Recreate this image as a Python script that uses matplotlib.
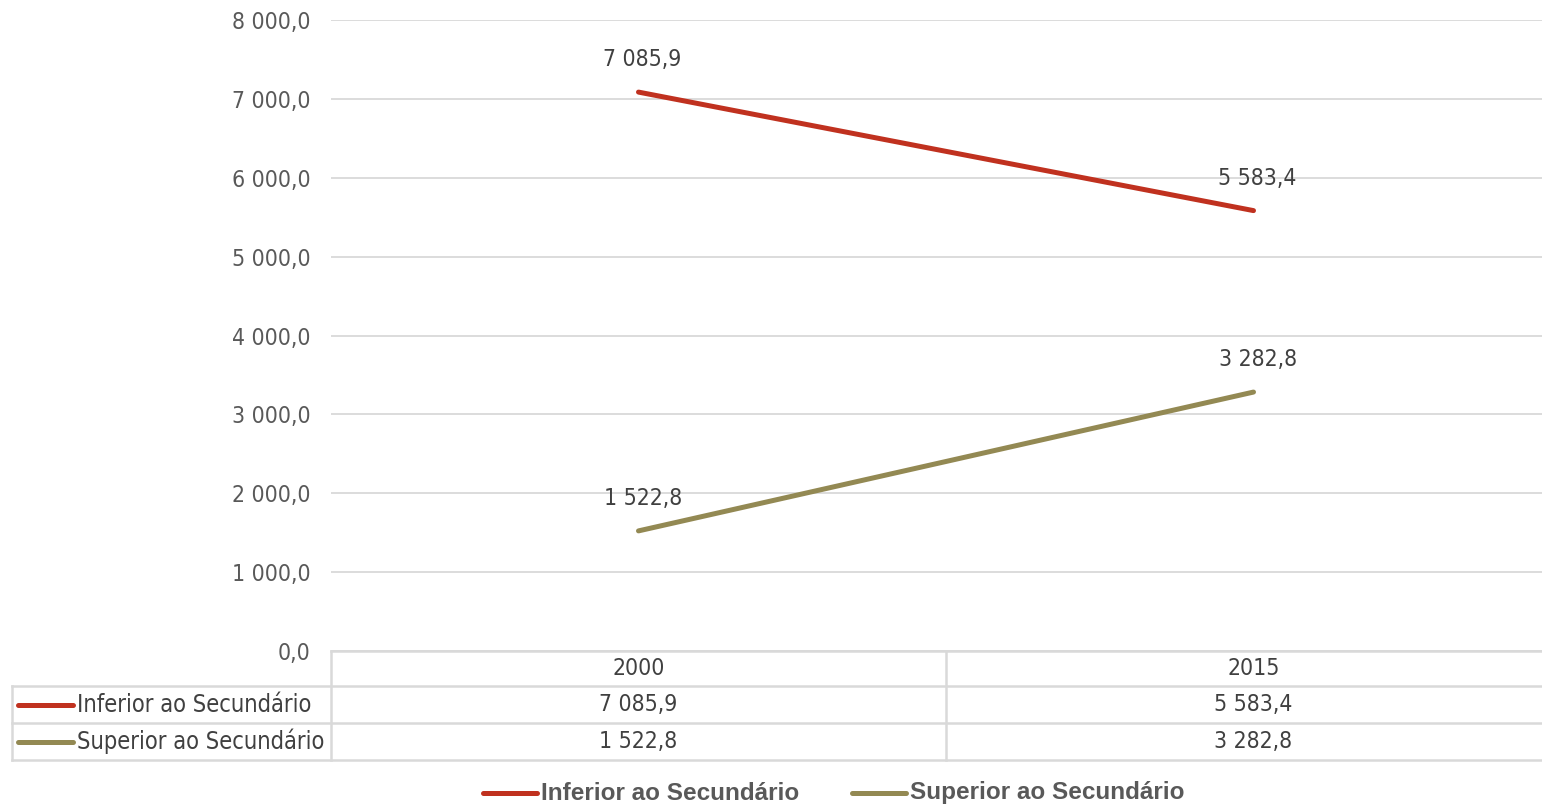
import matplotlib
matplotlib.use("Agg")
import matplotlib.pyplot as plt
from matplotlib.lines import Line2D

years = ["2000", "2015"]
series_names = ["Inferior ao Secundário", "Superior ao Secundário"]
inferior = [7085.9, 5583.4]
superior = [1522.8, 3282.8]
yticks = [0, 1000, 2000, 3000, 4000, 5000, 6000, 7000, 8000]

colors = ["#C0311F", "#938953"]
txt = "#595959"
lbl = "#404040"
grid = "#D9D9D9"
W, H = 1542, 806


def fmt(v):
    # 7085.9 -> "7 085,9"
    s = f"{v:,.1f}"
    return s.replace(",", " ").replace(".", ",")


plt.rcParams["font.family"] = ["DejaVu Sans"]
font = dict(family="DejaVu Sans", stretch="condensed")

fig = plt.figure(figsize=(W / 100, H / 100), dpi=100)
fig.patch.set_facecolor("white")

# plot area: columns 615 px wide, the right one runs off the canvas
left, right = 331, 331 + 2 * 615
top, bottom = 20, 651
ax = fig.add_axes([left / W, 1 - bottom / H, (right - left) / W, (bottom - top) / H])
ax.set_xlim(-0.5, 1.5)
ax.set_ylim(0, 8000)
ax.set_yticks(yticks)
ax.set_yticklabels([fmt(v) for v in yticks], fontsize=16.5, color=txt, **font)
ax.tick_params(axis="y", length=0, pad=14.5)
ax.set_xticks([])
for s in ax.spines.values():
    s.set_visible(False)
ax.grid(axis="y", color=grid, lw=1.3)
ax.set_axisbelow(True)

data = [inferior, superior]
for vals, c in zip(data, colors):
    ax.plot(range(len(years)), vals, color=c, lw=3.6, solid_capstyle="round")
    for i, v in enumerate(vals):
        ax.annotate(fmt(v), (i, v), xytext=(3, 15), textcoords="offset points",
                    ha="center", va="bottom", fontsize=16.5, color=lbl, **font)


def fx(px):
    return px / W


def fy(py):
    return 1 - py / H


def hline(x0, x1, y):
    fig.add_artist(Line2D([fx(x0), fx(x1)], [fy(y), fy(y)], color=grid, lw=1.8))


def vline(x, y0, y1):
    fig.add_artist(Line2D([fx(x), fx(x)], [fy(y0), fy(y1)], color=grid, lw=1.8))


# data table under the axis
rows = [651, 686, 723, 760]
hline(left, W, rows[0])
for y in rows[1:]:
    hline(12, W, y)
vline(12, rows[1], rows[3])
vline(left, rows[0], rows[3])
vline(left + 615, rows[0], rows[3])

for j, yr in enumerate(years):
    cx = left + 615 * (j + 0.5)
    fig.text(fx(cx), fy((rows[0] + rows[1]) / 2), yr, ha="center", va="center",
             fontsize=16.5, color=lbl, **font)
    for r, vals in enumerate(data):
        fig.text(fx(cx), fy((rows[r + 1] + rows[r + 2]) / 2), fmt(vals[j]),
                 ha="center", va="center", fontsize=16.5, color=lbl, **font)

for r, (name, c) in enumerate(zip(series_names, colors)):
    yc = (rows[r + 1] + rows[r + 2]) / 2
    fig.add_artist(Line2D([fx(18), fx(73)], [fy(yc), fy(yc)], color=c, lw=3.6,
                          solid_capstyle="round"))
    fig.text(fx(77), fy(yc), name, ha="left", va="center", fontsize=17, color=lbl, **font)

# legend along the bottom
for name, c, x0 in zip(series_names, colors, [483, 852]):
    fig.add_artist(Line2D([fx(x0), fx(x0 + 54)], [fy(793), fy(793)], color=c, lw=3.6,
                          solid_capstyle="round"))
    fig.text(fx(x0 + 58), fy(793), name, ha="left", va="center", fontsize=17.5,
             fontweight="bold", family="Liberation Sans", color=txt)

fig.savefig("out.png", dpi=100, facecolor="white")
